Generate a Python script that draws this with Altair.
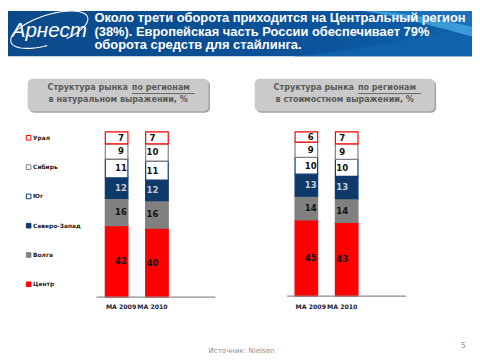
import math
import altair as alt
import pandas as pd

# ---------------- data ----------------
regions = ["Центр", "Волга", "Северо-Запад", "Юг", "Сибирь", "Урал"]
periods = ["MA 2009", "MA 2010"]
volume_2009 = [42, 16, 12, 11, 9, 7]
volume_2010 = [40, 16, 12, 11, 10, 7]
value_2009 = [45, 14, 13, 10, 9, 6]
value_2010 = [43, 14, 13, 10, 9, 7]

title_lines = [
    "Около трети оборота приходится на Центральный регион",
    "(38%).  Европейская часть России обеспечивает 79%",
    "оборота средств для стайлинга.",
]
logo_text = "Арнест"
box_left = ["Структура  рынка", "по регионам", "в натуральном  выражении, %"]
box_right = ["Структура  рынка", "по регионам", "в стоимостном  выражении, %"]
source_text = "Источник: Nielsen"
page_number = "5"

fill_colors = ["#FF0000", "#808080", "#0D3A6B", "#FFFFFF", "#FFFFFF", "#FFFFFF"]
stroke_colors = ["#FF0000", "#808080", "#0D3A6B", "#0D3A6B", "#808080", "#FF0000"]
label_colors = ["#111111", "#111111", "#C5CCD8", "#111111", "#111111", "#111111"]


def make_df(series):
    rows = []
    for p, vals in zip(periods, series):
        for i, (r, v) in enumerate(zip(regions, vals)):
            rows.append({"period": p, "region": r, "ord": i, "value": v})
    return pd.DataFrame(rows)


df_volume = make_df([volume_2009, volume_2010])
df_value = make_df([value_2009, value_2010])
df_periods = pd.DataFrame({"period": periods})
df_legend = pd.DataFrame({"region": regions})
one = pd.DataFrame({"k": [0]})

W, H = 472, 352
FONT = "DejaVu Sans"

fill_scale = alt.Scale(domain=regions, range=fill_colors)
stroke_scale = alt.Scale(domain=regions, range=stroke_colors)
label_scale = alt.Scale(domain=regions, range=label_colors)


def path_shape(points, cx, cy, k, close=True):
    s = "M" + " L".join(f"{(x - cx) / k:.4f},{(y - cy) / k:.4f}" for x, y in points)
    return s + (" Z" if close else "")


def deco_shape(points, cx, cy, k, fill=None, stroke=None, sw=1.0, close=True):
    shp = path_shape(points, cx, cy, k, close)
    kw = dict(shape=shp, size=(2 * k) ** 2, opacity=1)
    if fill:
        kw.update(filled=True, fill=fill, strokeWidth=0)
    else:
        kw.update(filled=False, stroke=stroke, strokeWidth=sw)
    return alt.Chart(one).mark_point(**kw).encode(x=alt.value(cx), y=alt.value(cy))


# ---------------- header ----------------
header = alt.Chart(one).mark_rect(
    color=alt.LinearGradient(
        gradient="linear",
        stops=[
            alt.GradientStop(color="#0B4A8A", offset=0),
            alt.GradientStop(color="#0A5198", offset=0.6),
            alt.GradientStop(color="#0F62AA", offset=1),
        ],
        x1=0, x2=1, y1=0, y2=0,
    )
).encode(x=alt.value(0), x2=alt.value(W), y=alt.value(0), y2=alt.value(46))

pts = [(290 + 182 * t / 20, 46 - 30 * (t / 20) ** 1.3) for t in range(21)] + [(472, 46)]
swoosh1 = deco_shape(pts, 380, 23, 100, fill="#1062AC")
up = [(372 + 100 * t / 20, 0 + 16 * (t / 20) ** 1.4) for t in range(21)]
lo = [(360 + 112 * t / 20, 0 + 26 * (t / 20) ** 1.2) for t in range(21)][::-1]
swoosh2 = deco_shape(up + lo, 420, 12, 100, fill="#3A9BD8")
corner = [(372 + 100 * t / 20, 16 * (t / 20) ** 1.4) for t in range(21)] + [(472, 0)]
swoosh3 = deco_shape(corner, 420, 8, 100, fill="#1E70B8")

ell = []
for i in range(0, 61):
    a = math.radians(100 + i * 5.5)
    ex, ey = 41 * math.cos(a), 15 * math.sin(a)
    r = math.radians(-18)
    ell.append((42 + ex * math.cos(r) - ey * math.sin(r), 19 + ex * math.sin(r) + ey * math.cos(r)))
logo_ring = deco_shape(ell, 42, 19, 50, stroke="white", sw=1.1, close=False)
logo = alt.Chart(one).mark_text(
    text=logo_text, font="Liberation Sans", fontStyle="italic", fontSize=21,
    color="white", align="center", baseline="alphabetic"
).encode(x=alt.value(42), y=alt.value(26))

title_layers = [
    alt.Chart(one).mark_text(
        text=line, font="Liberation Sans", fontWeight="bold", fontSize=13.1,
        color="white", align="left", baseline="alphabetic"
    ).encode(x=alt.value(88), y=alt.value(11.5 + 13.8 * i))
    for i, line in enumerate(title_lines)
]


# ---------------- subtitle boxes ----------------
def subtitle_box(x0, x1, lines, split_x, ul_len):
    shadow = alt.Chart(one).mark_rect(color="#A3A3A3", cornerRadius=5).encode(
        x=alt.value(x0 + 1.5), x2=alt.value(x1 + 1.5), y=alt.value(70.5), y2=alt.value(103.5))
    box = alt.Chart(one).mark_rect(color="#CACACA", cornerRadius=5).encode(
        x=alt.value(x0), x2=alt.value(x1), y=alt.value(69), y2=alt.value(102))
    common = dict(font=FONT, fontWeight="bold", fontSize=8.2, color="#5A5A5A", baseline="middle")
    t1 = alt.Chart(one).mark_text(text=lines[0], align="right", **common).encode(
        x=alt.value(split_x - 4), y=alt.value(78))
    t2 = alt.Chart(one).mark_text(text=lines[1], align="left", **common).encode(
        x=alt.value(split_x), y=alt.value(78))
    ul = alt.Chart(one).mark_rule(color="#5A5A5A", strokeWidth=0.9).encode(
        x=alt.value(split_x), x2=alt.value(split_x + ul_len), y=alt.value(84))
    t3 = alt.Chart(one).mark_text(text=lines[2], align="center", **common).encode(
        x=alt.value((x0 + x1) / 2), y=alt.value(91))
    return [shadow, box, t1, t2, ul, t3]


# ---------------- bar panels ----------------
def panel(df, xr, ybot, axis_x):
    xs = alt.Scale(domain=periods, range=xr, paddingInner=0.44, paddingOuter=0)
    ys = alt.Scale(domain=[0, 1], range=[ybot, 123], nice=False, zero=True)
    bars = alt.Chart(df).mark_bar(strokeWidth=1.2).encode(
        x=alt.X("period:N", scale=xs, axis=None),
        y=alt.Y("value:Q", stack="normalize", scale=ys, axis=None),
        fill=alt.Fill("region:N", scale=fill_scale, legend=None),
        stroke=alt.Stroke("region:N", scale=stroke_scale, legend=None),
        order=alt.Order("ord:Q", sort="ascending"),
    )
    labels = alt.Chart(df).transform_joinaggregate(
        total="sum(value)", groupby=["period"]
    ).transform_window(
        cum="sum(value)", sort=[alt.SortField("ord")], groupby=["period"], frame=[None, 0]
    ).transform_calculate(
        mid="(datum.cum - datum.value / 2) / datum.total"
    ).mark_text(font=FONT, fontWeight="bold", fontSize=8.7, baseline="middle").encode(
        x=alt.X("period:N", scale=xs, axis=None),
        y=alt.Y("mid:Q", scale=ys, axis=None),
        text=alt.Text("value:Q"),
        color=alt.Color("region:N", scale=label_scale, legend=None),
    )
    xl = alt.Chart(df_periods).mark_text(
        font=FONT, fontWeight="bold", fontSize=6.3, color="#1B2233", baseline="middle"
    ).encode(
        x=alt.X("period:N", scale=xs, axis=None),
        y=alt.value(301),
        text="period:N",
    )
    base = alt.Chart(one).mark_rule(color="#8C8C8C", strokeWidth=1.2).encode(
        x=alt.value(axis_x[0]), x2=alt.value(axis_x[1]), y=alt.value(ybot))
    return [bars, labels, base, xl]


leg_y = alt.Scale(type="point", domain=regions[::-1], range=[129, 278], padding=0)
legend_sq = alt.Chart(df_legend).mark_square(size=22, strokeWidth=1, opacity=1).encode(
    x=alt.value(21),
    y=alt.Y("region:N", scale=leg_y, axis=None),
    fill=alt.Fill("region:N", scale=fill_scale, legend=None),
    stroke=alt.Stroke("region:N", scale=stroke_scale, legend=None),
)
legend_tx = alt.Chart(df_legend).mark_text(
    font=FONT, fontWeight="bold", fontSize=6, color="#222222", align="left", baseline="middle"
).encode(
    x=alt.value(25.5),
    y=alt.Y("region:N", scale=leg_y, axis=None),
    text="region:N",
)

source = alt.Chart(one).mark_text(
    text=source_text, font=FONT, fontSize=7.2, color="#8C8C8C", align="left", baseline="middle"
).encode(x=alt.value(204), y=alt.value(346))
pnum = alt.Chart(one).mark_text(
    text=page_number, font=FONT, fontSize=8, color="#8C8C8C", align="center", baseline="middle"
).encode(x=alt.value(463), y=alt.value(341))

layers = (
    [header, swoosh1, swoosh3, swoosh2, logo_ring, logo]
    + title_layers
    + subtitle_box(20, 204, box_left, 126, 64)
    + subtitle_box(251, 434, box_right, 356, 64)
    + panel(df_volume, [99, 163], 291, (90, 211))
    + panel(df_value, [292, 356], 290, (284, 405))
    + [legend_sq, legend_tx, source, pnum]
)

chart = alt.layer(*layers).resolve_scale(
    x="independent", y="independent"
).properties(
    width=W, height=H, padding=0, autosize=alt.AutoSizeParams(type="none")
).configure_view(stroke=None)

chart.save("out.html", embed_options={"renderer": "svg", "actions": False})
